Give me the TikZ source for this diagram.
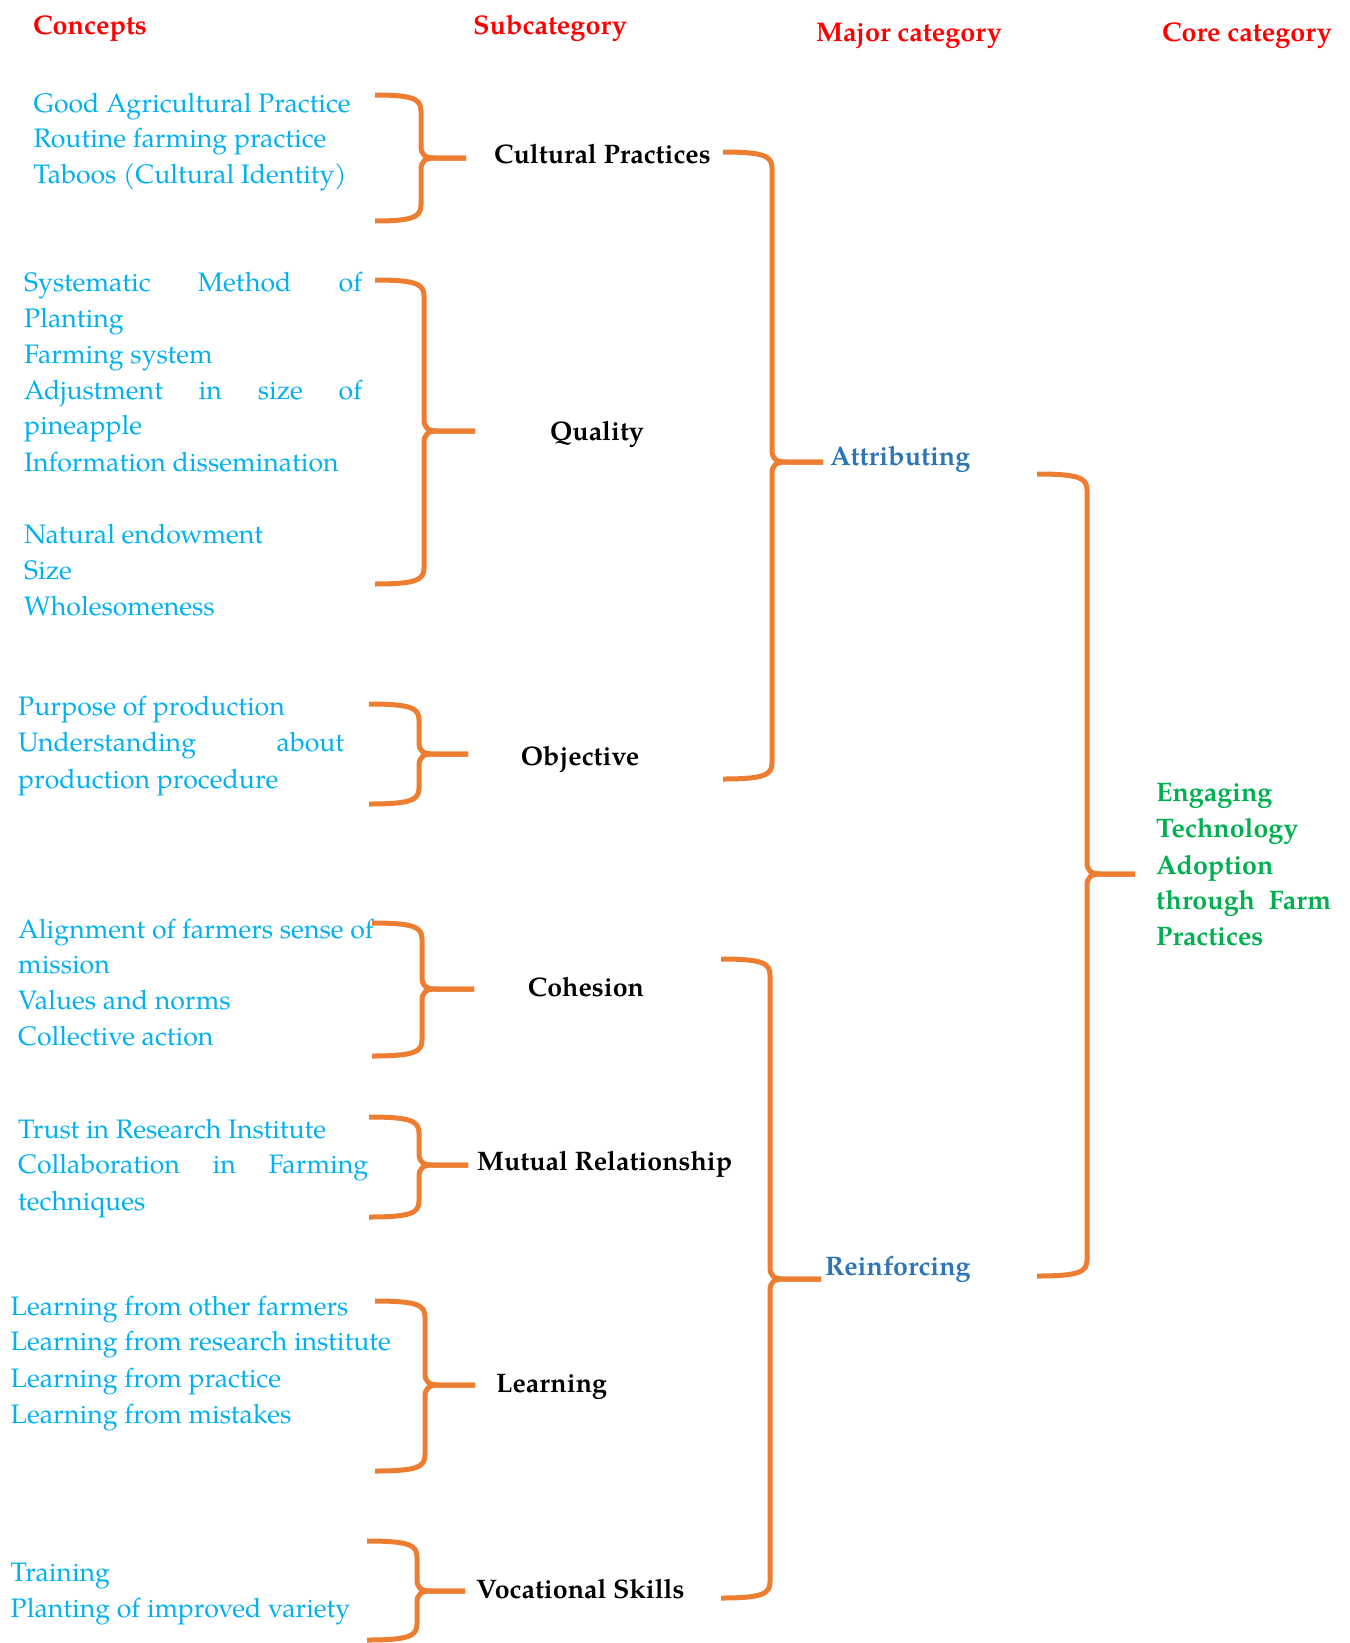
\documentclass[tikz,border=0pt]{standalone}
\usepackage{fontspec}
\setmainfont{texgyrepagella}[Extension=.otf, UprightFont=*-regular, BoldFont=*-bold, ItalicFont=*-italic, BoldItalicFont=*-bolditalic]
\definecolor{conceptc}{HTML}{00B0F0}
\definecolor{orangec}{HTML}{ED7D31}
\definecolor{headc}{HTML}{FF0000}
\definecolor{majorc}{HTML}{2E75B6}
\definecolor{corec}{HTML}{00B050}
\newcommand\drawbrace[6]{%
 \draw[bracestyle] (#1,#2) .. controls ({#4-8},#2) and (#4,{#2+4}) .. (#4,{#2+16}) -- (#4,{#6-12}) .. controls (#4,{#6-3}) and ({#4+4},#6) .. ({#4+14},#6) -- (#5,#6);
 \draw[bracestyle] (#5,#6) -- ({#4+14},#6) .. controls ({#4+4},#6) and (#4,{#6+3}) .. (#4,{#6+12}) -- (#4,{#3-16}) .. controls (#4,{#3-4}) and ({#4-8},#3) .. (#1,#3);
}
\newcommand\jline[2]{\makebox[#1pt][s]{#2}}
\begin{document}
\begin{tikzpicture}[x=1pt,y=-1pt,
  bracestyle/.style={draw=orangec, line width=5pt},
  txt/.style={inner sep=0pt, yshift=-3pt, font=\fontsize{27}{36}\selectfont, text height=20pt, text depth=7pt},
  concept/.style={txt, anchor=west, text=conceptc, font=\fontsize{26.7}{36}\selectfont},
  head/.style={txt, text=headc, font=\fontsize{27}{36}\selectfont\bfseries},
  subcat/.style={txt, text=black, font=\fontsize{26.8}{36}\selectfont\bfseries},
  major/.style={txt, anchor=west, text=majorc, font=\fontsize{26.8}{36}\selectfont\bfseries},
  core/.style={txt, anchor=west, text=corec, font=\fontsize{26.8}{36}\selectfont\bfseries}]
\useasboundingbox (0,0) rectangle (1349,1643);
\fill[white] (0,0) rectangle (1349,1643);
% headers
\node[head] (h1) at (90,25) {Concepts};
\node[head] (h2) at (550,25) {Subcategory};
\node[head] (h3) at (909,32) {Major category};
\node[head] (h4) at (1247,32) {Core category};
% group 1
\node[concept] (c11) at (33.5,103) {Good Agricultural Practice};
\node[concept] (c12) at (33.5,138) {Routine farming practice};
\node[concept] (c13) at (33.5,174) {Taboos (Cultural Identity)};
% group 2
\node[concept] (c21) at (24,282) {\jline{338}{Systematic Method of}};
\node[concept] (c22) at (24,318) {Planting};
\node[concept] (c23) at (24,354) {Farming system};
\node[concept] (c24) at (24,390) {\jline{338}{Adjustment in size of}};
\node[concept] (c25) at (24,425) {pineapple};
\node[concept] (c26) at (24,462) {Information dissemination};
\node[concept] (c27) at (24,534) {Natural endowment};
\node[concept] (c28) at (24,570) {Size};
\node[concept] (c29) at (24,606) {Wholesomeness};
% group 3
\node[concept] (c31) at (18,706) {Purpose of production};
\node[concept] (c32) at (18,742) {\jline{326}{Understanding about}};
\node[concept] (c33) at (18,779) {production procedure};
% group 4
\node[concept] (c41) at (18,929) {Alignment of farmers sense of};
\node[concept] (c42) at (18,964) {mission};
\node[concept] (c43) at (18,1000) {Values and norms};
\node[concept] (c44) at (18,1036) {Collective action};
% group 5
\node[concept] (c51) at (18,1129) {Trust in Research Institute};
\node[concept] (c52) at (18,1164) {\jline{350}{Collaboration in Farming}};
\node[concept] (c53) at (18,1201) {techniques};
% group 6
\node[concept] (c61) at (10.5,1306) {Learning from other farmers};
\node[concept] (c62) at (10.5,1341) {Learning from research institute};
\node[concept] (c63) at (10.5,1378) {Learning from practice};
\node[concept] (c64) at (10.5,1414) {Learning from mistakes};
% group 7
\node[concept] (c71) at (10.5,1572) {Training};
\node[concept] (c72) at (10.5,1608) {Planting of improved variety};
% subcategories
\node[subcat, anchor=west] (s1) at (494,154) {Cultural Practices};
\node[subcat] (s2) at (597,431) {Quality};
\node[subcat] (s3) at (580,756) {Objective};
\node[subcat] (s4) at (586,987) {Cohesion};
\node[subcat, anchor=west] (s5) at (477,1161) {Mutual Relationship};
\node[subcat, anchor=west] (s6) at (496,1383) {Learning};
\node[subcat, anchor=west] (s7) at (476,1589) {Vocational Skills};
% major
\node[major] (m1) at (830,456) {Attributing};
\node[major] (m2) at (825,1266) {Reinforcing};
% core
\node[core] (k1) at (1156,792) {Engaging};
\node[core] (k2) at (1156,828) {Technology};
\node[core] (k3) at (1156,865) {Adoption};
\node[core] (k4) at (1156,900) {\jline{175}{through Farm}};
\node[core] (k5) at (1156,936) {Practices};
% braces to subcategories
\drawbrace{375}{95}{221}{421}{466}{158}
\drawbrace{375}{280}{584}{424}{475}{431}
\drawbrace{369}{704}{804}{419}{468}{754}
\drawbrace{372}{923}{1056}{422}{474}{989}
\drawbrace{369}{1117}{1217}{419}{468}{1165}
\drawbrace{375}{1301}{1471}{425}{475}{1385}
\drawbrace{367}{1541}{1640}{417}{465}{1591}
% braces to major categories
\drawbrace{723}{152}{779}{772}{823}{462}
\drawbrace{721}{959}{1598}{770}{821}{1279}
% brace to core
\drawbrace{1037}{474}{1276}{1087}{1135}{874}
\end{tikzpicture}
\end{document}
